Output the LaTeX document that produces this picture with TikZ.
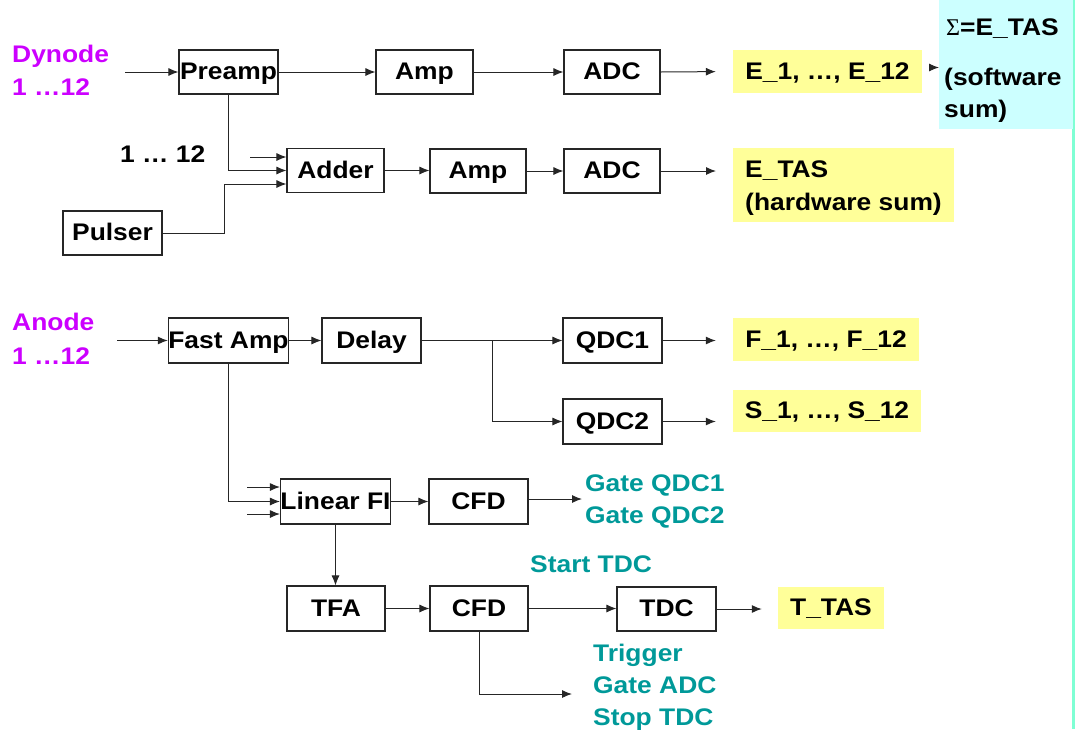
\documentclass[tikz,border=0pt]{standalone}
\usepackage{fontspec}
\setmainfont{Liberation Sans}[FakeStretch=1.1]
\usetikzlibrary{arrows.meta}
\definecolor{sigmag}{HTML}{CC00FF}
\definecolor{sigteal}{HTML}{009999}
\definecolor{outyel}{HTML}{FFFF99}
\definecolor{softcyan}{HTML}{CCFFFF}
\definecolor{edgegreen}{HTML}{7FFFD4}
\tikzset{
  every node/.style={font=\fontsize{24}{32}\selectfont\bfseries},
  blk/.style={draw=black!85, line width=1.1pt, inner sep=0pt, minimum height=44, minimum width=98,
              text height=17, text depth=2},
  outbox/.style={fill=outyel, inner sep=0pt, align=left, text height=17, text depth=2},
  arr/.style={draw=black!85, line width=1pt, -{Latex[length=10pt,width=8pt]}},
  lbl/.style={inner sep=0pt, anchor=base west, align=left},
}
\begin{document}
\begin{tikzpicture}[x=1pt,y=-1pt]
\useasboundingbox (0,0) rectangle (1075,729);
\fill[edgegreen] (1072,0) rectangle (1075,729);

% ---- energy branch (dynodes) ----
\node[lbl, text=sigmag, font=\fontsize{24}{33}\selectfont\bfseries] (dyn) at (12,95) {Dynode\\1 …12};
\node[blk, minimum width=99] (pre) at (228.5,72) {Preamp};
\node[blk, minimum width=97] (amp1) at (424.5,72) {Amp};
\node[blk, minimum width=96] (adc1) at (612,72) {ADC};
\node[outbox, minimum width=189, minimum height=43] (e1) at (827.5,71.5) {E\_1, …, E\_12};
\node[fill=softcyan, minimum width=134, minimum height=129, anchor=north west, inner sep=0pt] (soft) at (939,0) {};
\node[lbl] (softtxt) at (946,35) {{\fontspec{Liberation Serif}\mdseries Σ}=E\_TAS};
\node[lbl] (softtxt2) at (944,117) {(software\\sum)};

\node[lbl] (chan) at (120,162) {1 … 12};
\node[blk, minimum width=97] (adder) at (335.5,170.5) {Adder};
\node[blk, minimum width=96] (amp2) at (478,171) {Amp};
\node[blk, minimum width=96] (adc2) at (612,171) {ADC};
\node[blk, minimum width=99] (pulser) at (112.5,233) {Pulser};
\node[fill=outyel, minimum width=221, minimum height=74, anchor=north west, inner sep=0pt] (etas) at (733,148) {};
\node[lbl, font=\fontsize{24}{33}\selectfont\bfseries] (etastxt) at (745,210) {E\_TAS\\(hardware sum)};

\coordinate (dyin) at (125,72);
\coordinate (addin) at (250,157);
\draw[arr] (dyin) -- (pre.west);
\draw[arr] (pre.east) -- (amp1.west);
\draw[arr] (amp1.east) -- (adc1.west);
\draw[arr, shorten >=17pt] (adc1.east) -- (e1.west);
\draw[arr, shorten <=7pt] ([yshift=4pt]e1.east) -- ([yshift=4pt]e1.east -| soft.west);
\draw[arr] (addin) -- ([yshift=13.5pt]adder.west);
\draw[arr] (pre.south) |- (adder.west);
\draw[arr] (pulser.east) -- ++(62,0) |- ([yshift=-13.5pt]adder.west);
\draw[arr] (adder.east) -- (adder.east -| amp2.west);
\draw[arr] (amp2.east) -- (amp2.east -| adc2.west);
\draw[arr, shorten >=17pt] (adc2.east) -- (adc2.east -| etas.west);

% ---- timing and charge branch (anodes) ----
\node[lbl, text=sigmag, font=\fontsize{24}{34}\selectfont\bfseries] (ano) at (12,364) {Anode\\1 …12};
\node[blk, minimum width=117, minimum height=45] (fast) at (228.5,340.5) {Fast Amp};
\node[blk, minimum width=99, minimum height=45] (delay) at (371.5,340.5) {Delay};
\node[blk, minimum width=99, minimum height=45] (qdc1) at (612.5,340.5) {QDC1};
\node[blk, minimum width=99, minimum height=45] (qdc2) at (612.5,421.5) {QDC2};
\node[outbox, minimum width=186, minimum height=43] (f1) at (826,339.5) {F\_1, …, F\_12};
\node[outbox, minimum width=188, minimum height=42] (s1) at (827,411) {S\_1, …, S\_12};

\coordinate (anin) at (117,340.5);
\coordinate (br) at (492,340.5);
\draw[arr] (anin) -- (fast.west);
\draw[arr] (fast.east) -- (delay.west);
\draw[arr] (delay.east) -- (qdc1.west);
\draw[arr] (br) |- (qdc2.west);
\draw[arr, shorten >=17pt] (qdc1.east) -- (qdc1.east -| f1.west);
\draw[arr, shorten >=17pt] (qdc2.east) -- (qdc2.east -| s1.west);

\node[blk, minimum width=107, minimum height=45] (lin) at (335.5,501.5) {Linear FI};
\node[blk, minimum width=99, minimum height=45] (cfd1) at (478.5,501.5) {CFD};
\node[lbl, text=sigteal] (gate) at (585,523) {Gate QDC1\\Gate QDC2};
\node[blk, minimum width=98, minimum height=45] (tfa) at (336,608.5) {TFA};
\node[blk, minimum width=98, minimum height=45] (cfd2) at (479,608.5) {CFD};
\node[blk, minimum width=99, minimum height=44] (tdc) at (666.5,609) {TDC};
\node[outbox, minimum width=106, minimum height=42] (ttas) at (831,608) {T\_TAS};
\node[lbl, text=sigteal] (start) at (530,572) {Start TDC};
\node[lbl, text=sigteal] (trig) at (593,725) {Trigger\\Gate ADC\\Stop TDC};

\coordinate (lin1) at (247,487);
\coordinate (lin3) at (247,514);
\coordinate (gatein) at (582,499);
\coordinate (trigin) at (572,694);
\draw[arr] (lin1) -- ([yshift=14.5pt]lin.west);
\draw[arr] (fast.south) |- (lin.west);
\draw[arr] (lin3) -- ([yshift=-12.5pt]lin.west);
\draw[arr] (lin.east) -- (cfd1.west);
\draw[arr] ([yshift=2.5pt]cfd1.east) -- (gatein);
\draw[arr] (lin.south) -- (lin.south |- tfa.north);
\draw[arr] (tfa.east) -- (cfd2.west);
\draw[arr] (cfd2.east) -- (cfd2.east -| tdc.west);
\draw[arr, shorten >=16pt] (tdc.east) -- (tdc.east -| ttas.west);
\draw[arr] (cfd2.south) |- (trigin);
\end{tikzpicture}
\end{document}
